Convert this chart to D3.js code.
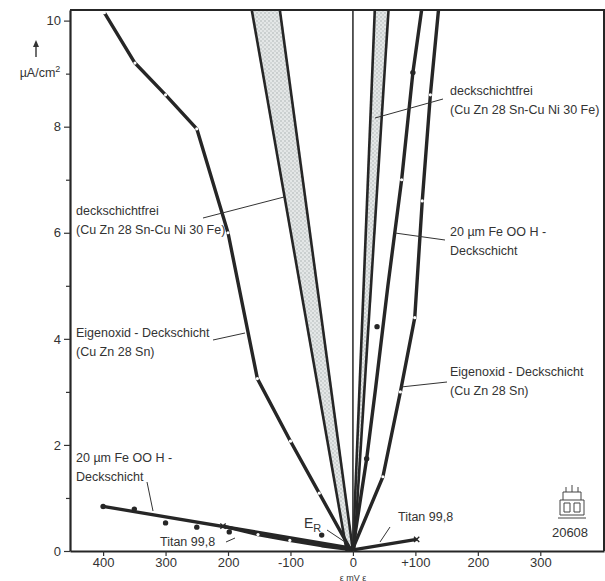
<!DOCTYPE html>
<html>
<head>
<meta charset="utf-8">
<script src="https://cdn.jsdelivr.net/npm/d3@7"></script>
<style>
  body { margin: 0; background: #fff; }
  text { font-family: "Liberation Sans", "DejaVu Sans", sans-serif; fill: #333; }
</style>
</head>
<body>
<div id="chart"></div>
<script>
// x ticks: the left side is cathodic, printed without sign on the original
var xTicks = [-400, -300, -200, -100, 0, 100, 200, 300];
var xTickLabels = ["400", "300", "200", "-100", "0", "+100", "200", "300"];
var yTicks = [0, 2, 4, 6, 8, 10];
var yMinorTicks = [1, 3, 5, 7, 9];

// [mV, uA/cm2]
var eigenoxidCathodic = [[-398, 10.15], [-349, 9.2], [-300, 8.6], [-250, 7.96], [-200, 6.0], [-153, 3.25], [-100, 2.07], [-54, 1.09], [-5, 0.05]];
var eigenoxidAnodic = [[0, 0.05], [48, 1.4], [76, 3.0], [99, 4.4], [111, 6.6], [124, 8.6], [137, 10.2]];
var feoohCathodic = [[-400, 0.84], [0, 0.05]];
var feoohCathodicDots = [[-400, 0.84], [-350, 0.79], [-300, 0.53], [-250, 0.45], [-198, 0.36], [-50, 0.3]];
var feoohAnodic = [[0, 0.05], [22, 1.74], [36, 3.04], [56, 5.0], [78, 7.0], [96, 9.02], [110, 10.2]];
var feoohAnodicDots = [[22, 1.74], [96, 9.02], [38.6, 4.23]];
var titanCathodic = [[-208, 0.47], [-152, 0.31], [-101, 0.2], [-50, 0.1], [0, 0.02]];
var titanAnodic = [[0, 0.02], [102, 0.22]];
var zeroLine = [[0, 0], [0, 10.2]];
// deckschichtfrei scatter bands: [lower edge, upper edge]
var bandLeft = [[[-10, 0], [-162, 10.2]], [[0, 0], [-117, 10.2]]];
var bandRight = [[[0, 0], [35, 10.2]], [[2, 0], [57, 10.2]]];

var width = 605, height = 581;
var svg = d3.select("#chart").append("svg")
    .attr("width", width)
    .attr("height", height);

var x = d3.scaleLinear().domain([-453, 402]).range([70, 604]);
var y = d3.scaleLinear().domain([0, 10.2]).range([551, 10]);

var defs = svg.append("defs");
var pat = defs.append("pattern")
    .attr("id", "dots")
    .attr("width", 4).attr("height", 4)
    .attr("patternUnits", "userSpaceOnUse");
pat.append("rect").attr("width", 4).attr("height", 4).attr("fill", "#e4e7e7");
pat.append("circle").attr("cx", 1).attr("cy", 1).attr("r", 0.8).attr("fill", "#a9b0b0");
pat.append("circle").attr("cx", 3).attr("cy", 3).attr("r", 0.8).attr("fill", "#b9bfbf");

var line = d3.line().x(function(d){ return x(d[0]) }).y(function(d){ return y(d[1]) });

// bands
function drawBand(edges){
    var poly = edges[0].concat(edges[1].slice().reverse());
    svg.append("path")
        .attr("d", line(poly) + "Z")
        .attr("fill", "url(#dots)")
        .attr("stroke", "none");
    edges.forEach(function(e){
        svg.append("path").attr("d", line(e))
            .attr("fill", "none").attr("stroke", "#262626").attr("stroke-width", 2.6);
    });
}
drawBand(bandLeft);
drawBand(bandRight);

svg.append("path").attr("d", line(zeroLine))
    .attr("fill", "none").attr("stroke", "#333").attr("stroke-width", 1.6);

var curves = [eigenoxidCathodic, eigenoxidAnodic, feoohCathodic, feoohAnodic, titanCathodic, titanAnodic];
svg.selectAll("path.curve")
    .data(curves)
    .enter()
    .append("path")
      .attr("class", "curve")
      .attr("d", line)
      .attr("fill", "none")
      .attr("stroke", "#262626")
      .attr("stroke-width", 3.4)
      .attr("stroke-linejoin", "round");

// white measuring marks sitting on the lines
var marks = eigenoxidCathodic.slice(0, 8).concat(eigenoxidAnodic.slice(1, 6), [feoohAnodic[4]], titanCathodic.slice(1, 3));
svg.selectAll("circle.mark")
    .data(marks)
    .enter()
    .append("circle")
      .attr("class", "mark")
      .attr("cx", function(d){ return x(d[0]) })
      .attr("cy", function(d){ return y(d[1]) })
      .attr("r", 1.6)
      .attr("fill", "#fff");

// black measured points
svg.selectAll("circle.dot")
    .data(feoohCathodicDots.concat(feoohAnodicDots))
    .enter()
    .append("circle")
      .attr("class", "dot")
      .attr("cx", function(d){ return x(d[0]) })
      .attr("cy", function(d){ return y(d[1]) })
      .attr("r", 2.7)
      .attr("fill", "#262626");

// crosses at titan line ends
var crosses = [titanCathodic[0], titanAnodic[1]];
svg.selectAll("path.cross")
    .data(crosses)
    .enter()
    .append("path")
      .attr("class", "cross")
      .attr("d", d3.symbol().type(d3.symbolX).size(20))
      .attr("transform", function(d){ return "translate(" + x(d[0]) + "," + y(d[1]) + ")" })
      .attr("stroke", "#262626")
      .attr("stroke-width", 1.3)
      .attr("fill", "none");

// axes
var xAxis = d3.axisBottom(x).tickValues(xTicks)
    .tickFormat(function(d, i){ return xTickLabels[i] })
    .tickSize(5).tickSizeOuter(0).tickPadding(2);
var gx = svg.append("g").attr("transform", "translate(0," + y(0) + ")").call(xAxis);
gx.select(".domain").attr("stroke", "#262626").attr("stroke-width", 2.2);
gx.selectAll(".tick line").attr("stroke", "#333").attr("stroke-width", 1.2);
gx.selectAll(".tick text").attr("font-size", 13).attr("fill", "#333")
    .attr("font-family", "Liberation Sans, sans-serif");

var yAxis = d3.axisLeft(y).tickValues(yTicks).tickSize(6).tickSizeOuter(0).tickPadding(3);
var gy = svg.append("g").attr("transform", "translate(" + x.range()[0] + ",0)").call(yAxis);
gy.select(".domain").attr("stroke", "#262626").attr("stroke-width", 2.2);
gy.selectAll(".tick line").attr("stroke", "#333").attr("stroke-width", 1.2);
gy.selectAll(".tick text").attr("font-size", 13).attr("fill", "#333")
    .attr("font-family", "Liberation Sans, sans-serif");

var gyMinor = svg.append("g").attr("transform", "translate(" + x.range()[0] + ",0)")
    .call(d3.axisLeft(y).tickValues(yMinorTicks).tickSize(4).tickFormat(""));
gyMinor.select(".domain").remove();
gyMinor.selectAll(".tick line").attr("stroke", "#333").attr("stroke-width", 1.2);

// frame top and right
svg.append("path")
    .attr("d", "M" + x.range()[0] + "," + y.range()[1] + "H" + x.range()[1] + "V" + y(0))
    .attr("fill", "none").attr("stroke", "#262626").attr("stroke-width", 2);

// y unit with arrow
svg.append("path").attr("d", "M36,57V43").attr("stroke", "#333").attr("stroke-width", 1.4);
svg.append("path").attr("d", "M33,47L36,40L39,47Z").attr("fill", "#333");
var yl = svg.append("text").attr("x", 40).attr("y", 77).attr("text-anchor", "middle").attr("font-size", 12.5);
yl.append("tspan").text("\u00b5A/cm");
yl.append("tspan").attr("dy", -5).attr("font-size", 9).text("2");

// x unit (sits at the very bottom edge)
svg.append("text").attr("x", 353).attr("y", 580.5).attr("text-anchor", "middle")
    .attr("font-size", 9).text("\u03b5 mV \u03b5");

// annotations
var labels = [
  {x: 450, y: 95, lines: ["deckschichtfrei", "(Cu Zn 28 Sn-Cu Ni 30 Fe)"], lead: [[443, 99], [375, 118]]},
  {x: 76, y: 215, lines: ["deckschichtfrei", "(Cu Zn 28 Sn-Cu Ni 30 Fe)"], lead: [[203, 218], [284, 197]]},
  {x: 450, y: 236, lines: ["20 \u00b5m Fe OO H -", "Deckschicht"], lead: [[445, 240], [395, 233]]},
  {x: 76, y: 337, lines: ["Eigenoxid - Deckschicht", "(Cu Zn 28 Sn)"], lead: [[213, 340], [245, 333]]},
  {x: 450, y: 376, lines: ["Eigenoxid - Deckschicht", "(Cu Zn 28 Sn)"], lead: [[447, 382], [401, 387]]},
  {x: 76, y: 462, lines: ["20 \u00b5m Fe OO H -", "Deckschicht"], lead: [[147, 482], [153, 511]]},
  {x: 160, y: 546, lines: ["Titan 99,8"], lead: [[226, 542], [235, 538]]},
  {x: 398, y: 521, lines: ["Titan 99,8"], lead: [[390, 527], [380, 542]]}
];
labels.forEach(function(l){
    var t = svg.append("text").attr("x", l.x).attr("y", l.y).attr("font-size", 12.5);
    l.lines.forEach(function(s, i){
        t.append("tspan").attr("x", l.x).attr("dy", i ? 19 : 0).text(s);
    });
    svg.append("path").attr("d", "M" + l.lead[0] + "L" + l.lead[1])
        .attr("stroke", "#333").attr("stroke-width", 1);
});

var er = svg.append("text").attr("x", 304).attr("y", 528).attr("font-size", 14);
er.append("tspan").text("E");
er.append("tspan").attr("dy", 4).attr("font-size", 11).text("R");
svg.append("path").attr("d", "M327,530L345,542").attr("stroke", "#333").attr("stroke-width", 1);

// emblem + number bottom right
var logo = svg.append("g").attr("fill", "none").attr("stroke", "#444").attr("stroke-width", 1);
logo.append("path").attr("d", "M558,518H586M560,515H584V500H560Z");
logo.append("path").attr("d", "M563,500V492H581V500M566,492V487M572,492V485M578,492V487");
logo.append("path").attr("d", "M564,503H570V512H564ZM574,503H580V512H574Z");
svg.append("text").attr("x", 570).attr("y", 537).attr("text-anchor", "middle").attr("font-size", 13).text("20608");
</script>
</body>
</html>
